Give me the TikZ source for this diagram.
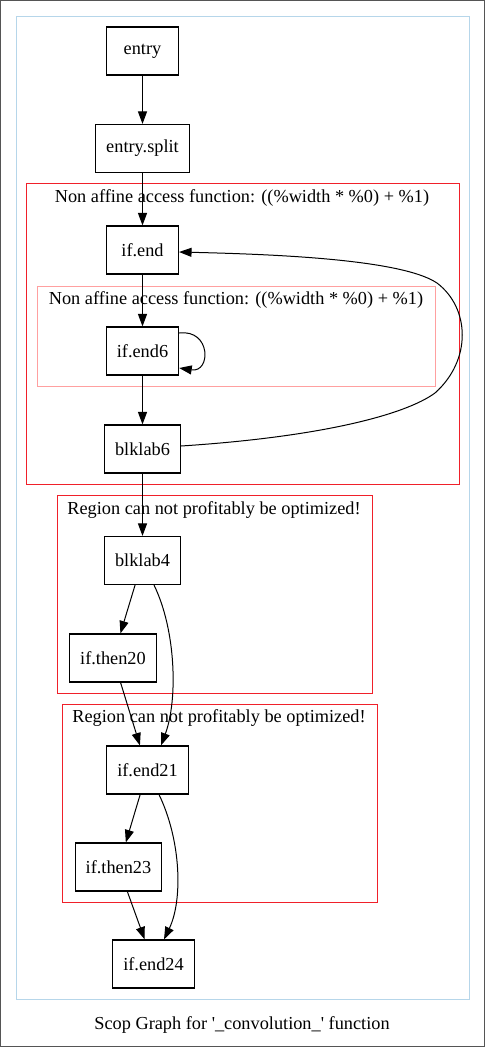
\documentclass[tikz,border=0pt]{standalone}
\usepackage{fontspec}
\setmainfont{Liberation Serif}
\usepackage{tikz}
\usetikzlibrary{arrows.meta}
\definecolor{gray1}{HTML}{555555}
\definecolor{blue1}{HTML}{B6D6EA}
\definecolor{red1}{HTML}{F0202A}
\definecolor{pink1}{HTML}{FFA0A0}

\begin{document}
\begin{tikzpicture}[x=1pt, y=-1pt, >={Triangle[length=12.5pt,width=9pt]},
  every node/.style={font=\fontsize{18.3}{22}\selectfont},
  block/.style={draw, line width=1.1pt, minimum width=72pt, minimum height=48pt, inner xsep=10.5pt},
  edge/.style={->, line width=1pt}]

  \useasboundingbox (0,0) rectangle (485,1047);
  \draw[gray1, line width=1pt] (0.5,0.5) rectangle (484.5,1046.5);

  % clusters
  \draw[blue1, line width=1.2pt] (16.5,16.5) rectangle (469.5,999.5);
  \draw[red1, line width=1.2pt] (26.5,183.5) rectangle (459.5,484.5);
  \node (lblaccessA) at (242,198) {Non affine access function: ((\%width * \%0) + \%1)};
  \draw[pink1, line width=1.2pt] (37.5,286.5) rectangle (435.5,386.5);
  \node (lblaccessB) at (236,300) {Non affine access function: ((\%width * \%0) + \%1)};
  \draw[red1, line width=1.2pt] (57.5,495.5) rectangle (372.5,693.5);
  \node (lblregionA) at (214,510) {Region can not profitably be optimized!};
  \draw[red1, line width=1.2pt] (62.5,704.5) rectangle (377.5,902.5);
  \node (lblregionB) at (219,718) {Region can not profitably be optimized!};

  % blocks
  \node[block] (entry) at (142.5,51) {entry};
  \node[block] (entrysplit) at (142.5,148.5) {entry.split};
  \node[block] (ifend) at (142.5,250) {if.end};
  \node[block] (ifendsix) at (142.5,351) {if.end6};
  \node[block] (blklabsix) at (142.5,449) {blklab6};
  \node[block] (blklabfour) at (142.5,560.5) {blklab4};
  \node[block] (ifthentwenty) at (113,658) {if.then20};
  \node[block] (ifendtwentyone) at (147.5,770) {if.end21};
  \node[block] (ifthentwentythree) at (118.5,867) {if.then23};
  \node[block] (ifendtwentyfour) at (153.5,964) {if.end24};

  \node (caption) at (242,1025) {Scop Graph for \textquotesingle\_convolution\_\textquotesingle{} function};

  % edges
  \draw[edge] (entry) -- (entrysplit);
  \draw[edge] (entrysplit) -- (ifend);
  \draw[edge] (ifend) -- (ifendsix);
  \draw[edge] ([yshift=18pt]ifendsix.east) .. controls +(32,-4) and +(32,5) .. ([yshift=-17pt]ifendsix.east);
  \draw[edge] (ifendsix) -- (blklabsix);
  \draw[edge] ([yshift=3pt]blklabsix.east) .. controls (320,437) and (405,415) .. (435,393)
    .. controls (472,360) and (470,308) .. (437,283)
    .. controls (400,258) and (260,254) .. ([yshift=-2pt]ifend.east);
  \draw[edge] (blklabsix) -- (blklabfour);
  \draw[edge] (blklabfour) -- (ifthentwenty);
  \draw[edge] ([xshift=11.5pt]blklabfour.south) .. controls (176,630) and (178,700) .. ([xshift=13.5pt]ifendtwentyone.north);
  \draw[edge] (ifthentwenty) -- (ifendtwentyone);
  \draw[edge] (ifendtwentyone) -- (ifthentwentythree);
  \draw[edge] ([xshift=11.5pt]ifendtwentyone.south) .. controls (181,840) and (183,900) .. ([xshift=10.5pt]ifendtwentyfour.north);
  \draw[edge] (ifthentwentythree) -- (ifendtwentyfour);

\end{tikzpicture}
\end{document}
